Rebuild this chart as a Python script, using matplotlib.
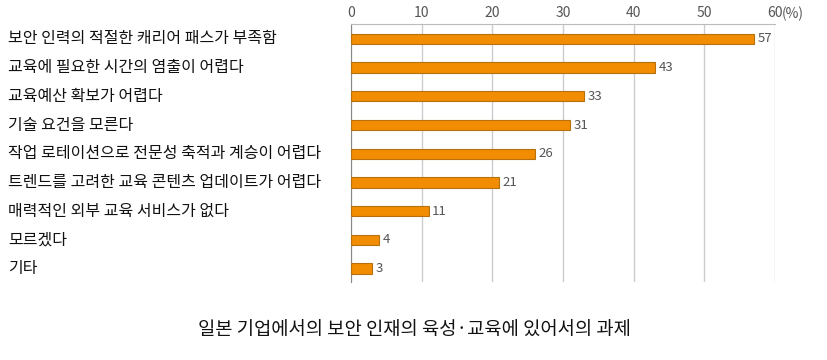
import matplotlib
matplotlib.use("Agg")
import matplotlib.pyplot as plt
import matplotlib.transforms as mtrans

categories = [
    "보안 인력의 적절한 캐리어 패스가 부족함",
    "교육에 필요한 시간의 염출이 어렵다",
    "교육예산 확보가 어렵다",
    "기술 요건을 모른다",
    "작업 로테이션으로 전문성 축적과 계승이 어렵다",
    "트렌드를 고려한 교육 콘텐츠 업데이트가 어렵다",
    "매력적인 외부 교육 서비스가 없다",
    "모르겠다",
    "기타",
]
values = [57, 43, 33, 31, 26, 21, 11, 4, 3]
xticks = [0, 10, 20, 30, 40, 50, 60]
title = "일본 기업에서의 보안 인재의 육성·교육에 있어서의 과제"

plt.rcParams['font.family'] = ['Noto Sans CJK KR', 'DejaVu Sans']

fig = plt.figure(figsize=(8.28, 3.6), dpi=100)
ax = fig.add_axes([351/828, 1-282/360, (775-351)/828, (282-24)/360])

y = list(range(len(categories)))
ax.barh(y, values, height=0.36, color='#F28C00', edgecolor='#B8700F', linewidth=0.8, zorder=3)
for yi, v in zip(y, values):
    ax.text(v + 0.5, yi, str(v), va='center', ha='left', fontsize=9.5, color='#555555')

ax.set_xlim(0, 60)
ax.set_ylim(8.47, -0.52)
ax.set_xticks(xticks)
ax.set_xticklabels([str(t) for t in xticks])
ax.xaxis.tick_top()
ax.tick_params(axis='x', length=0, pad=3, labelsize=10, labelcolor='#555555')
ax.tick_params(axis='y', length=0)
ax.set_yticks(y)
ax.set_yticklabels([])
ax.grid(axis='x', color='#CCCCCC', linewidth=1, zorder=0)
for s in ['right', 'bottom']:
    ax.spines[s].set_visible(False)
ax.spines['top'].set_color('#BBBBBB')
ax.spines['left'].set_color('#888888')
ax.text(61.0, 1.0, "(%)", transform=ax.get_xaxis_transform(), ha='left', va='bottom',
        fontsize=10, color='#555555').set_y(1.01)

trans = mtrans.blended_transform_factory(fig.transFigure, ax.transData)
for yi, c in zip(y, categories):
    ax.text(8/828, yi, c, transform=trans, ha='left', va='center', fontsize=11.5, color='#111111')

fig.text(0.5, 1-330/360, title, ha='center', va='center', fontsize=13.5, color='#111111')

fig.savefig("out.png", dpi=100)
